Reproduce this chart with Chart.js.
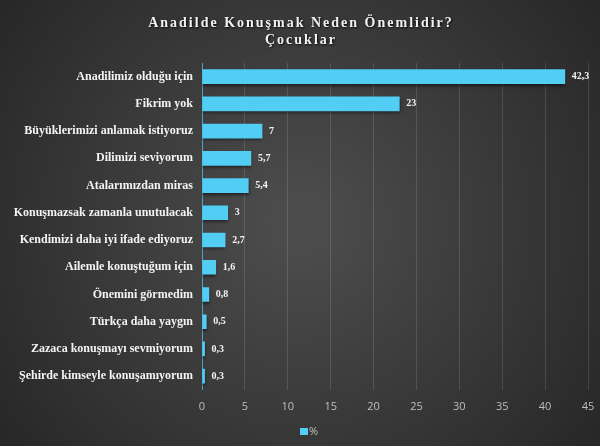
<!DOCTYPE html>
<html>
<head>
<meta charset="utf-8">
<script src="https://cdn.jsdelivr.net/npm/chart.js@4"></script>
<style>
  html, body { margin: 0; padding: 0; background: #2b2b2b; }
  #wrap { width: 600px; height: 446px; }
</style>
</head>
<body>
<div id="wrap"><canvas id="bars" width="600" height="446"></canvas></div>
<script>
var titleLines = ['Anadilde Konuşmak Neden Önemlidir?', 'Çocuklar'];
var categories = [
    'Anadilimiz olduğu için',
    'Fikrim yok',
    'Büyüklerimizi anlamak istiyoruz',
    'Dilimizi seviyorum',
    'Atalarımızdan miras',
    'Konuşmazsak zamanla unutulacak',
    'Kendimizi daha iyi ifade ediyoruz',
    'Ailemle konuştuğum için',
    'Önemini görmedim',
    'Türkça daha yaygın',
    'Zazaca konuşmayı sevmiyorum',
    'Şehirde kimseyle konuşamıyorum'
];
var percent = [42.3, 23, 7, 5.7, 5.4, 3, 2.7, 1.6, 0.8, 0.5, 0.3, 0.3];
var seriesName = '%';
var barColor = '#52cdf4';

// dark radial backdrop, title and the small legend
var backdrop = {
    id: 'backdrop',
    beforeDraw: function (chart) {
        var c = chart.ctx, w = chart.width, h = chart.height;
        var g = c.createRadialGradient(w / 2, h / 2, 20, w / 2, h / 2, 380);
        g.addColorStop(0, '#4c4c4c');
        g.addColorStop(1, '#262626');
        c.save();
        c.fillStyle = g;
        c.fillRect(0, 0, w, h);
        c.restore();
    },
    afterDraw: function (chart) {
        var c = chart.ctx;
        c.save();
        c.font = 'bold 14px "Liberation Serif"';
        c.letterSpacing = '2px';
        c.textAlign = 'center';
        c.textBaseline = 'middle';
        c.shadowColor = 'rgba(0,0,0,0.8)';
        c.shadowOffsetX = 1;
        c.shadowOffsetY = 1;
        c.shadowBlur = 2;
        c.fillStyle = '#f2f2f2';
        c.fillText(titleLines[0], chart.width / 2 + 1, 23);
        c.fillText(titleLines[1], chart.width / 2 + 1, 40);
        c.restore();

        // legend, left of centre like the original
        c.save();
        c.fillStyle = barColor;
        c.fillRect(300, 428, 8, 7);
        c.font = '11px "Open Sans"';
        c.fillStyle = '#bfbfbf';
        c.textAlign = 'left';
        c.textBaseline = 'middle';
        c.fillText(seriesName, 309, 432);
        c.restore();
    }
};

// soft shadow under the bars
var barShadow = {
    id: 'barShadow',
    beforeDatasetsDraw: function (chart) {
        var c = chart.ctx;
        c.save();
        c.shadowColor = 'rgba(0,0,0,0.55)';
        c.shadowOffsetY = 2;
        c.shadowBlur = 3;
    },
    afterDatasetsDraw: function (chart) {
        chart.ctx.restore();
    }
};

// value labels at bar ends
var valueLabels = {
    id: 'valueLabels',
    afterDatasetsDraw: function (chart) {
        var c = chart.ctx;
        var meta = chart.getDatasetMeta(0);
        c.save();
        c.font = 'bold 10px "Liberation Serif"';
        c.fillStyle = '#f2f2f2';
        c.textAlign = 'left';
        c.textBaseline = 'middle';
        meta.data.forEach(function (bar, i) {
            var txt = String(percent[i]).replace('.', ',');
            c.fillText(txt, bar.x + 7, bar.y);
        });
        c.restore();
    }
};

var ctx = document.getElementById('bars').getContext('2d');
var chart = new Chart(ctx, {
    type: 'bar',
    data: {
        labels: categories,
        datasets: [{
            label: seriesName,
            data: percent,
            backgroundColor: barColor,
            borderWidth: 0,
            barThickness: 14
        }]
    },
    options: {
        indexAxis: 'y',
        responsive: false,
        animation: false,
        layout: { padding: { top: 63, right: 12, bottom: 23, left: 0 } },
        scales: {
            x: {
                min: 0,
                max: 45,
                ticks: { stepSize: 5, color: '#bfbfbf', font: { family: '"Open Sans"', size: 11 }, padding: 10 },
                grid: { color: 'rgba(255,255,255,0.13)', drawTicks: false },
                border: { display: false },
                afterFit: function (scale) { scale.paddingRight = 0; scale.paddingLeft = 0; }
            },
            y: {
                ticks: { color: '#f4f4f4', font: { family: '"Liberation Serif"', size: 12, weight: 'bold' }, padding: 9 },
                grid: { display: false, drawTicks: false },
                border: { color: '#4aa3c8', width: 1 },
                afterFit: function (scale) { scale.width = 202; }
            }
        },
        plugins: {
            legend: { display: false },
            tooltip: { enabled: false }
        }
    },
    plugins: [backdrop, barShadow, valueLabels]
});
</script>
</body>
</html>
